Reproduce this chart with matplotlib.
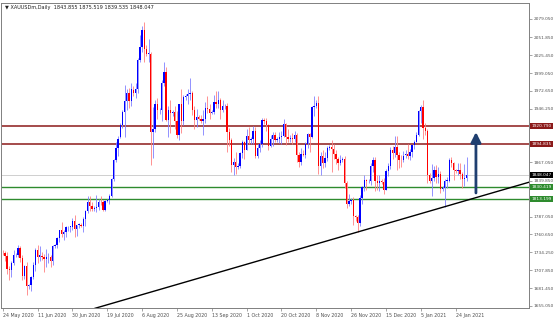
import numpy as np
import matplotlib
matplotlib.use("Agg")
import matplotlib.pyplot as plt
from matplotlib.transforms import blended_transform_factory

# daily XAUUSD bars, 24 May 2020 .. 29 Jan 2021 (one row per week, Sun..Fri)
opens = [
    1734, 1733, 1729, 1710, 1708, 1719,
    1730, 1731, 1740, 1726, 1699, 1714,
    1684, 1686, 1698, 1715, 1737, 1727,
    1729, 1728, 1725, 1727, 1727, 1722,
    1743, 1745, 1755, 1768, 1761, 1764,
    1771, 1772, 1772, 1781, 1769, 1775,
    1774, 1773, 1784, 1795, 1809, 1803,
    1798, 1800, 1802, 1809, 1808, 1797,
    1810, 1811, 1817, 1842, 1871, 1888,
    1904, 1922, 1941, 1958, 1970, 1958,
    1974, 1970, 1976, 2019, 2037, 2063,
    2035, 2028, 2028, 1912, 1916, 1953,
    1944, 1945, 1985, 2001, 1930, 1945,
    1940, 1942, 1928, 1907, 1954, 1929,
    1964, 1965, 1968, 1970, 1944, 1930,
    1934, 1932, 1929, 1931, 1947, 1946,
    1940, 1941, 1956, 1954, 1960, 1944,
    1950, 1950, 1912, 1900, 1863, 1868,
    1861, 1862, 1881, 1898, 1886, 1906,
    1900, 1901, 1914, 1877, 1888, 1894,
    1930, 1928, 1922, 1892, 1902, 1908,
    1900, 1901, 1905, 1906, 1924, 1904,
    1902, 1903, 1902, 1908, 1878, 1868,
    1879, 1878, 1894, 1909, 1904, 1949,
    1951, 1955, 1862, 1877, 1866, 1873,
    1888, 1890, 1887, 1880, 1872, 1866,
    1871, 1872, 1837, 1806, 1810, 1812,
    1788, 1786, 1777, 1815, 1831, 1841,
    1839, 1840, 1862, 1871, 1839, 1837,
    1840, 1838, 1827, 1855, 1862, 1886,
    1881, 1890, 1878, 1871, 1870,
    1878, 1880, 1877, 1882, 1893,
    1898, 1908, 1943, 1949, 1918, 1913,
    1848, 1840, 1844, 1856, 1845, 1850,
    1828, 1830, 1840, 1840, 1871, 1866,
    1856, 1855, 1856, 1850, 1843, 1843.855,
]
highs = [
    1737, 1736, 1735, 1714, 1722, 1737,
    1734, 1745, 1744, 1730, 1716, 1720,
    1688, 1699, 1720, 1740, 1745, 1744,
    1735, 1732, 1739, 1734, 1731, 1745,
    1747, 1757, 1768, 1779, 1767, 1773,
    1773, 1773, 1785, 1789, 1775, 1778,
    1777, 1786, 1797, 1818, 1817, 1809,
    1803, 1819, 1813, 1817, 1812, 1812,
    1813, 1820, 1844, 1872, 1898, 1906,
    1925, 1945, 1981, 1975, 1977, 1984,
    1980, 1985, 2021, 2055, 2069, 2075,
    2040, 2049, 2030, 1949, 1960, 1963,
    1948, 1989, 2015, 2008, 1951, 1959,
    1945, 1951, 1943, 1954, 1975, 1967,
    1968, 1975, 1992, 1973, 1950, 1946,
    1937, 1937, 1944, 1956, 1965, 1954,
    1945, 1966, 1973, 1973, 1962, 1960,
    1953, 1955, 1918, 1903, 1874, 1882,
    1866, 1882, 1900, 1899, 1917, 1919,
    1905, 1921, 1920, 1894, 1900, 1933,
    1933, 1933, 1924, 1907, 1912, 1912,
    1904, 1912, 1913, 1931, 1925, 1916,
    1907, 1911, 1914, 1910, 1883, 1888,
    1885, 1897, 1911, 1910, 1951, 1965,
    1960, 1965, 1882, 1885, 1882, 1892,
    1893, 1900, 1895, 1885, 1875, 1878,
    1875, 1876, 1839, 1820, 1815, 1816,
    1790, 1790, 1819, 1833, 1848, 1843,
    1843, 1866, 1875, 1875, 1848, 1848,
    1843, 1844, 1857, 1867, 1890, 1891,
    1906, 1906, 1883, 1878, 1884,
    1885, 1895, 1887, 1893, 1900,
    1912, 1944, 1952, 1959, 1926, 1917,
    1852, 1865, 1862, 1863, 1860, 1855,
    1833, 1843, 1845, 1873, 1875, 1868,
    1858, 1867, 1867, 1853, 1865, 1875.519,
]
lows = [
    1730, 1721, 1703, 1694, 1698, 1716,
    1727, 1728, 1720, 1693, 1695, 1671,
    1680, 1677, 1695, 1707, 1718, 1721,
    1723, 1705, 1712, 1719, 1712, 1716,
    1740, 1741, 1750, 1757, 1753, 1757,
    1766, 1764, 1767, 1757, 1758, 1770,
    1771, 1764, 1773, 1792, 1795, 1795,
    1796, 1794, 1797, 1804, 1795, 1796,
    1808, 1806, 1816, 1840, 1868, 1876,
    1903, 1918, 1904, 1944, 1948, 1951,
    1965, 1962, 1970, 2016, 2031, 2015,
    2024, 2016, 1863, 1874, 1912, 1932,
    1938, 1929, 1980, 1928, 1905, 1911,
    1935, 1916, 1903, 1900, 1911, 1922,
    1960, 1954, 1960, 1937, 1916, 1920,
    1930, 1925, 1907, 1926, 1940, 1932,
    1938, 1938, 1947, 1948, 1931, 1942,
    1946, 1882, 1891, 1853, 1848, 1850,
    1858, 1859, 1873, 1872, 1885, 1895,
    1895, 1895, 1874, 1873, 1883, 1890,
    1924, 1914, 1885, 1890, 1892, 1897,
    1897, 1896, 1895, 1904, 1893, 1898,
    1898, 1895, 1897, 1868, 1860, 1864,
    1876, 1874, 1888, 1883, 1903, 1936,
    1948, 1850, 1848, 1859, 1861, 1869,
    1885, 1853, 1872, 1865, 1856, 1863,
    1868, 1830, 1800, 1803, 1806, 1774,
    1780, 1764, 1773, 1806, 1825, 1826,
    1836, 1834, 1853, 1825, 1826, 1825,
    1835, 1820, 1826, 1847, 1857, 1872,
    1875, 1856, 1859, 1861, 1868,
    1874, 1872, 1871, 1875, 1887,
    1897, 1906, 1926, 1901, 1907, 1836,
    1836, 1817, 1840, 1837, 1837, 1822,
    1825, 1802, 1830, 1838, 1860, 1841,
    1852, 1849, 1843, 1830, 1832, 1839.535,
]
closes = [
    1733, 1729, 1710, 1708, 1719, 1730,
    1731, 1740, 1726, 1699, 1714, 1685,
    1686, 1698, 1715, 1737, 1727, 1730,
    1728, 1725, 1727, 1727, 1722, 1743,
    1745, 1755, 1768, 1761, 1764, 1771,
    1772, 1772, 1781, 1769, 1775, 1775,
    1773, 1784, 1795, 1809, 1803, 1798,
    1800, 1802, 1809, 1808, 1797, 1810,
    1811, 1817, 1842, 1871, 1888, 1902,
    1922, 1941, 1958, 1970, 1958, 1975,
    1970, 1976, 2019, 2037, 2063, 2035,
    2028, 2028, 1912, 1916, 1953, 1944,
    1945, 1985, 2001, 1930, 1945, 1940,
    1942, 1928, 1907, 1954, 1929, 1964,
    1965, 1968, 1970, 1944, 1930, 1934,
    1932, 1929, 1931, 1947, 1946, 1940,
    1941, 1956, 1954, 1960, 1944, 1950,
    1950, 1912, 1900, 1863, 1868, 1861,
    1862, 1881, 1898, 1886, 1906, 1900,
    1901, 1914, 1877, 1888, 1894, 1930,
    1928, 1922, 1892, 1902, 1908, 1900,
    1901, 1905, 1906, 1924, 1904, 1902,
    1903, 1902, 1908, 1878, 1868, 1879,
    1878, 1894, 1909, 1904, 1949, 1951,
    1955, 1862, 1877, 1866, 1873, 1888,
    1890, 1887, 1880, 1872, 1866, 1871,
    1872, 1837, 1806, 1810, 1812, 1788,
    1786, 1777, 1815, 1831, 1841, 1839,
    1840, 1862, 1871, 1839, 1837, 1840,
    1838, 1827, 1855, 1862, 1886, 1881,
    1890, 1878, 1871, 1870, 1876,
    1880, 1877, 1882, 1893, 1898,
    1908, 1943, 1949, 1918, 1913, 1849,
    1840, 1844, 1856, 1845, 1850, 1828,
    1830, 1840, 1840, 1871, 1866, 1856,
    1855, 1856, 1850, 1843, 1843, 1848.047,
]

date_labels = ["24 May 2020", "11 Jun 2020", "30 Jun 2020", "19 Jul 2020",
               "6 Aug 2020", "25 Aug 2020", "13 Sep 2020", "1 Oct 2020",
               "20 Oct 2020", "8 Nov 2020", "26 Nov 2020", "15 Dec 2020",
               "5 Jan 2021", "24 Jan 2021"]
date_bars = [0, 16, 32, 48, 64, 80, 96, 112, 128, 144, 160, 176, 192, 208]

price_ticks = [2079.050, 2051.850, 2025.450, 1999.050, 1972.650, 1946.250,
               1867.050, 1839.850, 1787.050, 1760.650, 1734.250, 1707.850,
               1681.450, 1655.050]

resistance = [1920.790, 1894.835]
support = [1830.419, 1813.199]
bid = 1848.047

# trendline anchor points (bar index, price)
trend_x = [42.4, 241.8]
trend_y = [1651.6, 1838.0]

# arrow (bar index, price from -> to)
arrow_bar = 217.3
arrow_from = 1822.0
arrow_to = 1912.0

title = "\u25bc XAUUSDm,Daily  1843.855 1875.519 1839.535 1848.047"

W, H = 554, 321
fig = plt.figure(figsize=(W / 100, H / 100), dpi=100)
ax = fig.add_axes([1 / W, (H - 308.3) / H, 528.3 / W, 305.6 / H])

x = np.arange(len(closes))
o = np.array(opens)
h = np.array(highs)
l = np.array(lows)
c = np.array(closes)
up = c >= o

# wicks
ax.vlines(x[up], l[up], h[up], color="#8080ff", lw=0.6, zorder=3)
ax.vlines(x[~up], l[~up], h[~up], color="#ff8080", lw=0.6, zorder=3)
# bodies
body = np.maximum(np.abs(c - o), 0.8)
ax.bar(x[up], body[up], bottom=np.minimum(o, c)[up], width=0.6,
       color="#0000ff", linewidth=0, zorder=4)
ax.bar(x[~up], body[~up], bottom=np.minimum(o, c)[~up], width=0.6,
       color="#ff0000", linewidth=0, zorder=4)

# horizontal levels
ax.axhline(bid, color="#c8c8c8", lw=0.6, zorder=2)
for lv in resistance:
    ax.axhline(lv, color="#8b1a1a", lw=1.1, zorder=2)
for lv in support:
    ax.axhline(lv, color="#2e8b2e", lw=1.0, zorder=2)

# trendline
ax.plot(trend_x, trend_y, color="black", lw=1.0, zorder=5)

# arrow
ax.annotate("", xy=(arrow_bar, arrow_to), xytext=(arrow_bar, arrow_from),
            arrowprops=dict(arrowstyle="-|>,head_length=0.6,head_width=0.3",
                            color="#1f3f70", lw=2.0, shrinkA=0, shrinkB=0),
            zorder=6)

ax.set_xlim(-0.78, 241.8)
ax.set_ylim(1651.6, 2103.1)

for s in ax.spines.values():
    s.set_color("#808080")
    s.set_linewidth(0.7)

ax.yaxis.tick_right()
ax.set_yticks(price_ticks)
ax.set_yticklabels([f"{p:.3f}" for p in price_ticks])
ax.tick_params(axis="y", direction="out", length=2, width=0.5, pad=1.0,
               colors="#808080", labelcolor="#505050", labelsize=3.1)

ax.set_xticks(date_bars)
ax.set_xticklabels(date_labels, ha="left")
ax.tick_params(axis="x", direction="out", length=2, width=0.5, pad=1.5,
               colors="#808080", labelcolor="#505050", labelsize=3.4)

# price boxes on the right axis
trans = blended_transform_factory(ax.transAxes, ax.transData)
boxes = [(lv, "#8b1a1a") for lv in resistance] + \
        [(lv, "#2e8b2e") for lv in support] + [(bid, "black")]
for lv, col in boxes:
    ax.text(1.0 + 2.0 / 528.3, lv, f"{lv:.3f}", transform=trans,
            fontsize=3.1, color="white", ha="left", va="center", zorder=10,
            bbox=dict(boxstyle="square,pad=0.25", fc=col, ec="none"),
            clip_on=False)

fig.text(5 / W, 1 - 7 / H, title, fontsize=3.6, color="#202020",
         ha="left", va="center")

fig.savefig("out.png", dpi=100)
